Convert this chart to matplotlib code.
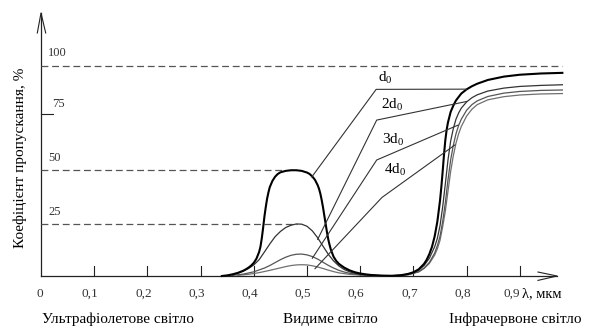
import matplotlib
matplotlib.use('Agg')
import matplotlib.pyplot as plt

plt.rcParams['font.family'] = ['Liberation Serif', 'DejaVu Serif']
plt.rcParams['mathtext.fontset'] = 'custom'
plt.rcParams['mathtext.rm'] = 'Liberation Serif'
plt.rcParams['mathtext.it'] = 'Liberation Serif'

# transmission curves (wavelength, um / transmission, %)
x_d1 = [0.34, 0.35, 0.36, 0.37, 0.38, 0.385, 0.39, 0.395, 0.40, 0.405, 0.41, 0.4125,
        0.415, 0.4175, 0.42, 0.4225, 0.425, 0.4275, 0.43, 0.435, 0.44, 0.445, 0.45,
        0.46, 0.47, 0.48, 0.49, 0.50, 0.505, 0.51, 0.515, 0.52, 0.5225, 0.525, 0.5275,
        0.53, 0.5325, 0.535, 0.5375, 0.54, 0.5425, 0.545, 0.55, 0.555, 0.56, 0.57,
        0.58, 0.59, 0.60, 0.61, 0.62, 0.64, 0.66, 0.675, 0.69, 0.70, 0.71, 0.72,
        0.725, 0.73, 0.735, 0.74, 0.745, 0.75, 0.7525, 0.755, 0.7575, 0.76, 0.7625,
        0.765, 0.77, 0.775, 0.78, 0.79, 0.80, 0.81, 0.82, 0.84, 0.87, 0.90, 0.94, 0.98]
y_d1 = [0, 0.3, 0.8, 1.5, 2.5, 3.2, 4, 5, 6.3, 8.3, 11.5, 14,
        18, 23, 28.5, 33, 37, 40, 42.5, 45.5, 47.5, 48.8, 49.6,
        50.3, 50.6, 50.6, 50.3, 49.5, 48.8, 47.6, 46, 43.5, 41.8, 39.5, 36.5,
        33, 29, 25, 21, 17.5, 14.8, 12.5, 9.2, 7.2, 5.8, 4,
        2.7, 1.8, 1.2, 0.8, 0.5, 0.2, 0.1, 0.3, 1, 1.8, 3.2, 5.8,
        7.8, 10.5, 14, 19, 26, 36, 42.5, 50, 58, 65, 70,
        73.5, 78.5, 81.5, 84, 87.3, 89.3, 90.8, 92, 93.8, 95.4, 96.3, 96.9, 97.2]

x_d2 = [0.35, 0.36, 0.37, 0.38, 0.39, 0.40, 0.41, 0.42, 0.43, 0.44, 0.45, 0.46, 0.47,
        0.48, 0.49, 0.50, 0.51, 0.52, 0.53, 0.54, 0.55, 0.56, 0.57, 0.58, 0.59, 0.60,
        0.62, 0.65, 0.68, 0.70, 0.71, 0.72, 0.73, 0.74, 0.745, 0.75, 0.755, 0.76,
        0.765, 0.77, 0.775, 0.78, 0.785, 0.79, 0.80, 0.81, 0.82, 0.84, 0.87, 0.90,
        0.94, 0.98]
y_d2 = [0, 0.6, 1.3, 2.3, 3.6, 5.3, 7.8, 11.5, 15.3, 18.8, 21.3, 23.2, 24.3,
        24.9, 24.8, 23.8, 21.6, 18.3, 14.3, 10.4, 7.2, 4.8, 3.1, 2, 1.3, 0.8,
        0.3, 0.1, 0.4, 1.5, 2.8, 5, 8.5, 14, 18, 24, 33, 44,
        55.5, 64.5, 70.5, 75, 78, 80.3, 83.3, 85.3, 86.7, 88.5, 89.9, 90.7,
        91.2, 91.5]

x_d3 = [0.36, 0.38, 0.40, 0.42, 0.43, 0.44, 0.45, 0.46, 0.47, 0.48, 0.49, 0.50, 0.51,
        0.52, 0.53, 0.54, 0.55, 0.56, 0.57, 0.58, 0.60, 0.62, 0.66, 0.69, 0.71, 0.72,
        0.73, 0.74, 0.745, 0.75, 0.755, 0.76, 0.765, 0.77, 0.775, 0.78, 0.785, 0.79,
        0.80, 0.81, 0.82, 0.84, 0.87, 0.90, 0.94, 0.98]
y_d3 = [0.3, 0.9, 2, 3.8, 5, 6.4, 7.8, 9, 9.9, 10.4, 10.5, 10.1, 9.3,
        8.1, 6.6, 5.1, 3.8, 2.7, 1.9, 1.3, 0.6, 0.3, 0.1, 0.6, 2, 3.8,
        6.5, 11, 14.5, 19, 26, 35, 46, 55.5, 62.5, 68, 72, 75,
        79.3, 82, 83.8, 85.9, 87.5, 88.3, 88.8, 89]

x_d4 = [0.37, 0.39, 0.41, 0.43, 0.45, 0.46, 0.47, 0.48, 0.49, 0.50, 0.51, 0.52, 0.53,
        0.54, 0.55, 0.56, 0.58, 0.60, 0.63, 0.66, 0.69, 0.71, 0.72, 0.73, 0.74, 0.745,
        0.75, 0.755, 0.76, 0.765, 0.77, 0.775, 0.78, 0.785, 0.79, 0.80, 0.81, 0.82,
        0.84, 0.87, 0.90, 0.94, 0.98]
y_d4 = [0.3, 0.8, 1.6, 2.7, 3.9, 4.5, 5, 5.3, 5.4, 5.3, 4.9, 4.3, 3.6,
        2.8, 2.1, 1.5, 0.8, 0.4, 0.15, 0.1, 0.6, 2, 3.6, 6, 10, 13,
        17, 23.5, 31, 40.5, 50, 57.5, 63.5, 68, 71.5, 76.5, 79.8, 82,
        84.3, 85.8, 86.6, 87.1, 87.3]

labels = ['d$_0$', '2d$_0$', '3d$_0$', '4d$_0$']

# leader lines: point on bell -> corner -> point on IR curve
leaders = [
    ([0.509, 0.630, 0.80], [47.4, 89.3, 89.4]),
    ([0.520, 0.631, 0.80], [17.5, 74.6, 83.5]),
    ([0.510, 0.631, 0.784], [8.5, 55.5, 72.2]),
    ([0.515, 0.641, 0.778], [3.5, 37.6, 62.7]),
]

xticks = [0.1, 0.2, 0.3, 0.4, 0.5, 0.6, 0.7, 0.8, 0.9]
xtick_labels = ['0,1', '0,2', '0,3', '0,4', '0,5', '0,6', '0,7', '0,8', '0,9']

W, H = 589, 328
fig = plt.figure(figsize=(W / 100, H / 100), dpi=100)
ax = fig.add_axes([0, 0, 1, 1])
ax.axis('off')

# pixel frame: x = 0 at px 41, 0.1 um = 53.2 px; y = 0 at px 276, 1 % = 2.09 px
def px(x, y):
    return (x - 41) / 532, (276 - y) / 2.09

x0, y0 = px(0, H)
x1, y1 = px(W, 0)
ax.set_xlim(x0, x1)
ax.set_ylim(y0, y1)

# axes with open arrow heads
tip_y = px(41, 13)[1]
wing_y = px(41, 33)[1]
ax.plot([0, 0], [0, tip_y], color='#222', lw=0.9)
ax.plot([px(37.3, 0)[0], 0, px(45.7, 0)[0]], [wing_y, tip_y, wing_y], color='#222', lw=0.8)
tip_x = px(557, 0)[0]
wing_x = px(538, 0)[0]
ax.plot([0, tip_x], [0, 0], color='#222', lw=0.9)
ax.plot([wing_x, tip_x, wing_x], [1.9, 0, -2.1], color='#222', lw=0.8)

for t in xticks:
    ax.plot([t, t], [0, 4.8], color='#222', lw=0.8)
ax.plot([0, px(53, 0)[0]], [77.3, 77.3], color='#222', lw=0.8)

# dashed reference levels
dash = dict(color='#555', lw=0.9, dashes=(5.5, 3))
ax.plot([0, px(562, 0)[0]], [100.5, 100.5], **dash)
ax.plot([0, 0.453], [50.5, 50.5], **dash)
ax.plot([0, 0.481], [25, 25], **dash)

# curves
ax.plot(x_d4, y_d4, color='#707070', lw=0.9)
ax.plot(x_d3, y_d3, color='#555555', lw=0.9)
ax.plot(x_d2, y_d2, color='#333333', lw=0.9)
ax.plot(x_d1, y_d1, color='black', lw=1.5)

for lx, ly in leaders:
    ax.plot(lx, ly, color='#333', lw=0.8)

# texts (pixel positions)
def ftext(x, y, s, **kw):
    fig.text(x / W, 1 - y / H, s, **kw)

for (x, y), s in zip([(378, 78), (381, 105), (382, 140), (384, 170)], labels):
    ftext(x, y, s, fontsize=11, ha='left', va='center')

for y, s in [(53, '100'), (104, '75'), (158, '50'), (212, '25')]:
    ftext(48 if s != '75' else 52, y, s, fontsize=9, ha='left', va='center', color='#333')

ftext(40, 294, '0', fontsize=9.5, ha='center', va='center', color='#333')
for t, s in zip(xticks, xtick_labels):
    shift = 8 if s == '0,9' else 4
    ftext(41 + 532 * t - shift, 294, s, fontsize=9.5, ha='center', va='center', color='#333')
ftext(522, 294, 'λ, мкм', fontsize=10.5, ha='left', va='center')

ftext(20, 158, 'Коефіцієнт пропускання, %', fontsize=11, rotation=90,
      ha='center', va='center')

ftext(118, 319, 'Ультрафіолетове світло', fontsize=11, ha='center', va='center')
ftext(330, 319, 'Видиме світло', fontsize=11, ha='center', va='center')
ftext(515, 319, 'Інфрачервоне світло', fontsize=11, ha='center', va='center')

fig.savefig('out.png', dpi=100)
